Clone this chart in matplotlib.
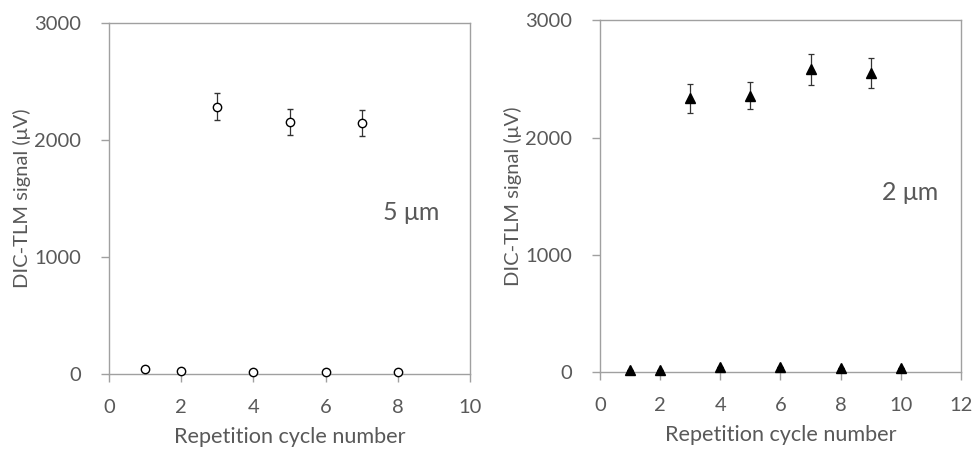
import numpy as np
import matplotlib.pyplot as plt

plt.rcParams['font.family'] = ['Lato', 'DejaVu Sans']

# 5 um data
x5 = [1, 2, 3, 4, 5, 6, 7, 8]
y5 = [45, 28, 2285, 20, 2154, 20, 2145, 20]
e5 = [0, 0, 117, 0, 110, 0, 110, 0]

# 2 um data
x2 = [1, 2, 3, 4, 5, 6, 7, 8, 9, 10]
y2 = [18, 20, 2334, 45, 2359, 45, 2585, 35, 2550, 35]
e2 = [0, 0, 122, 0, 118, 0, 132, 0, 128, 0]

gray = '#a0a0a0'
txt = '#595959'

fig = plt.figure(figsize=(9.77, 4.49), dpi=100)
ax1 = fig.add_axes([0.1116, 0.167, 0.3695, 0.782])
ax2 = fig.add_axes([0.614, 0.1715, 0.3696, 0.783])


def style(ax, xmax):
    ax.set_xlim(0, xmax)
    ax.set_ylim(0, 3000)
    ax.set_xticks(np.arange(0, xmax + 1, 2))
    ax.set_yticks([0, 1000, 2000, 3000])
    for s in ax.spines.values():
        s.set_color(gray)
        s.set_linewidth(1.0)
    ax.tick_params(direction='out', length=6, width=1.0, color=gray,
                   labelcolor=txt, labelsize=14.5)
    ax.tick_params(axis='x', pad=12)
    ax.tick_params(axis='y', pad=14)
    ax.set_xlabel('Repetition cycle number', color=txt, fontsize=15.6, labelpad=8)
    ax.set_ylabel('DIC-TLM signal (\u03bcV)', color=txt, fontsize=14.5, labelpad=2)


ax1.errorbar(x5, y5, yerr=e5, fmt='o', mfc='white', mec='black', mew=1.0,
             ms=6, ecolor='#333333', elinewidth=0.9, capsize=2.5, capthick=0.9,
             zorder=3, clip_on=False)
style(ax1, 10)
ax1.text(7.6, 1380, '5 \u03bcm', color=txt, fontsize=18, va='center')

ax2.errorbar(x2, y2, yerr=e2, fmt='^', mfc='black', mec='black',
             ms=7.5, ecolor='#333333', elinewidth=0.9, capsize=2.5, capthick=0.9,
             zorder=3, clip_on=False)
style(ax2, 12)
ax2.text(9.37, 1530, '2 \u03bcm', color=txt, fontsize=18, va='center')

fig.savefig('out.png', dpi=100)
